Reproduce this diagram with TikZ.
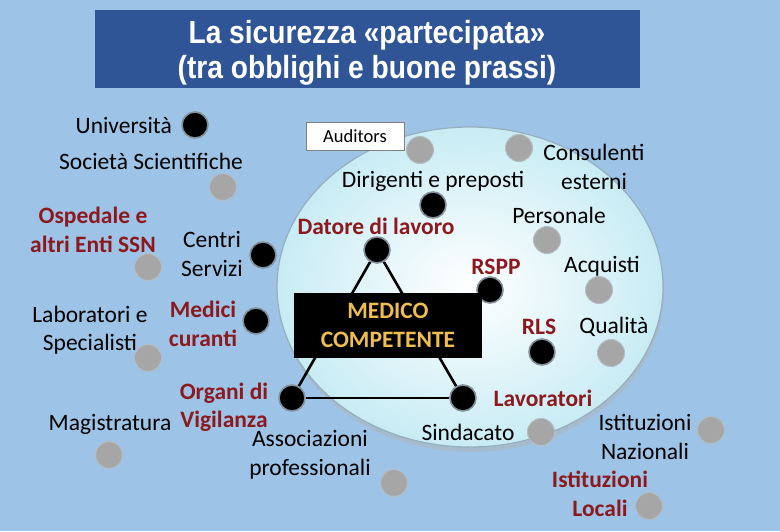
\documentclass[tikz,border=0pt]{standalone}
\usepackage{fontspec}
\setmainfont{Carlito}
\newfontfamily\titlefont[FakeStretch=0.88]{Liberation Sans}
\definecolor{bg}{RGB}{157,195,230}
\definecolor{titleblue}{RGB}{47,85,151}
\definecolor{darkred}{RGB}{140,25,30}
\definecolor{gold}{RGB}{240,190,80}
\definecolor{dotgray}{RGB}{166,166,166}
\definecolor{dotrim}{RGB}{130,145,155}
\definecolor{ellrim}{RGB}{150,175,190}
\definecolor{ellout}{RGB}{200,236,244}
\tikzset{
  lbl/.style={font=\fontsize{23.5}{28.5}\selectfont, text=black, inner sep=0pt, align=center},
  rlbl/.style={font=\fontsize{23.5}{28.5}\selectfont\bfseries, text=darkred, inner sep=0pt, align=center},
  blackdot/.style={circle, fill=black, draw=dotrim, line width=1.6pt, minimum size=26pt, inner sep=0pt},
  graydot/.style={circle, fill=dotgray, draw=dotrim!60, line width=1pt, minimum size=27pt, inner sep=0pt},
  tri/.style={line width=2.6pt, black}
}
\begin{document}
\begin{tikzpicture}[x=1pt,y=-1pt]
\useasboundingbox (0,0) rectangle (780,531);
\fill[bg] (0,0) rectangle (780,531);
% title
\node[fill=titleblue, minimum width=545pt, minimum height=78pt, anchor=north west, inner sep=0pt] (title) at (95,10) {};
\node[text=white, align=center, inner sep=0pt, font=\titlefont\fontsize{32}{35}\selectfont\bfseries] (ttext) at (367,53)
  {La sicurezza «partecipata»\\(tra obblighi e buone prassi)};
% big ellipse
\fill[gray!60, opacity=0.45] (471,292) ellipse [x radius=193pt, y radius=160pt];
\shade[inner color=white, outer color=ellout, draw=ellrim, line width=1.2pt] (470,287) ellipse [x radius=193pt, y radius=160pt];
% auditors box
\node[draw=gray, fill=white, minimum width=98pt, minimum height=28pt, inner sep=0pt,
      font=\fontsize{18.5}{22}\selectfont] (aud) at (355,136) {Auditors};
% dots
\node[blackdot] (uni) at (195,125) {};
\node[graydot] (audd) at (420,150) {};
\node[graydot] (cons) at (519,148) {};
\node[graydot] (soc) at (223,187) {};
\node[blackdot] (dir) at (433,205) {};
\node[graydot] (pers) at (547,240) {};
\node[graydot] (osp) at (148,267) {};
\node[blackdot] (cen) at (263,255) {};
\node[blackdot] (dat) at (377,250) {};
\node[blackdot] (rspp) at (490,290) {};
\node[graydot] (acq) at (599,290) {};
\node[blackdot] (med) at (256,321) {};
\node[graydot] (lab) at (148,358) {};
\node[blackdot] (rls) at (542,352) {};
\node[graydot] (qual) at (611,353) {};
\node[blackdot] (org) at (292,398) {};
\node[blackdot] (lav) at (463,398) {};
\node[graydot] (sin) at (541,432) {};
\node[graydot] (ina) at (711,430) {};
\node[graydot] (mag) at (109,455) {};
\node[graydot] (ass) at (394,483) {};
\node[graydot] (ilo) at (649,506) {};
% triangle
\draw[tri] (dat) -- (org);
\draw[tri] (dat) -- (lav);
\draw[tri] (org) -- (lav);
% medico competente
\node[fill=black, minimum width=188pt, minimum height=65pt, inner sep=0pt, text=gold, align=center,
      font=\fontsize{23.5}{29}\selectfont\bfseries] (mc) at (388,325) {MEDICO\\COMPETENTE};
% labels
\node[lbl, anchor=east] (tuni) at (172,125) {Università};
\node[lbl] (tsoc) at (151,161) {Società Scientifiche};
\node[rlbl] (tosp) at (93,230) {Ospedale e\\altri Enti SSN};
\node[lbl] (tcen) at (212,254) {Centri\\Servizi};
\node[lbl] (tlab) at (90,330) {Laboratori e\\Specialisti};
\node[rlbl] (tmed) at (203,324) {Medici\\curanti};
\node[rlbl] (torg) at (224,407) {Organi di\\Vigilanza};
\node[lbl] (tmag) at (110,424) {Magistratura};
\node[lbl] (tass) at (310,455) {Associazioni\\professionali};
\node[lbl] (tsin) at (468,432) {Sindacato};
\node[rlbl] (tlav) at (543,398) {Lavoratori};
\node[lbl] (tina) at (645,437) {Istituzioni\\Nazionali};
\node[rlbl] (tilo) at (600,494) {Istituzioni\\Locali};
\node[lbl] (tdir) at (433,181) {Dirigenti e preposti};
\node[lbl] (tcons) at (594,167) {Consulenti\\esterni};
\node[lbl] (tpers) at (559,215) {Personale};
\node[lbl] (tacq) at (602,266) {Acquisti};
\node[lbl] (tqual) at (614,327) {Qualità};
\node[rlbl] (trspp) at (496,267) {RSPP};
\node[rlbl] (trls) at (539,327) {RLS};
\node[rlbl] (tdat) at (376,226) {Datore di lavoro};
\end{tikzpicture}
\end{document}
